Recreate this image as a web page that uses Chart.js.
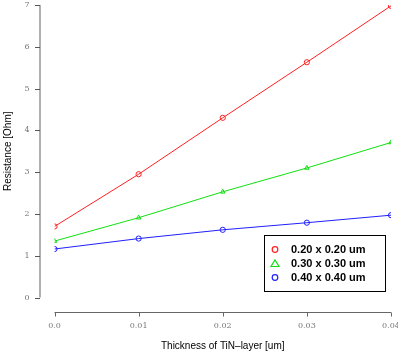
<!DOCTYPE html>
<html>
<head>
<meta charset="utf-8">
<script src="https://cdn.jsdelivr.net/npm/chart.js@4.4.1/dist/chart.umd.min.js"></script>
<style>
  body { margin: 0; background: #fff; }
  #wrap { width: 398px; height: 352px; }
</style>
</head>
<body>
<div id="wrap"><canvas id="resChart" width="398" height="352"></canvas></div>
<script>
// espesor de la capa TiN [um]
const espesor = [0.0, 0.01, 0.02, 0.03, 0.04];
const etiquetas = ['0.20 x 0.20 um', '0.30 x 0.30 um', '0.40 x 0.40 um'];
const res020 = [1.70, 2.95, 4.30, 5.63, 6.98];
const res030 = [1.35, 1.91, 2.53, 3.10, 3.71];
const res040 = [1.16, 1.41, 1.62, 1.79, 1.97];
const xTicks = ['0.0', '0.01', '0.02', '0.03', '0.04'];
const yTicks = [0, 1, 2, 3, 4, 5, 6, 7];

const serie = (vals, color, estilo, i) => ({
    label: etiquetas[i],
    data: espesor.map((x, k) => ({ x: x, y: vals[k] })),
    borderColor: color,
    backgroundColor: '#fff',
    pointBorderColor: color,
    pointBackgroundColor: 'rgba(0,0,0,0)',
    pointStyle: estilo,
    pointRadius: 2.6,
    pointBorderWidth: 1,
    borderWidth: 1,
    tension: 0,
    fill: false
});

// ejes estilo R, separados del area del grafico
const ejesR = {
    id: 'ejesR',
    afterDraw(chart) {
        const c = chart.ctx;
        const xs = chart.scales.x, ys = chart.scales.y;
        c.save();
        // eje y
        c.strokeStyle = '#b0b0b0';
        c.lineWidth = 2;
        c.beginPath();
        c.moveTo(40, ys.getPixelForValue(0));
        c.lineTo(40, ys.getPixelForValue(7));
        c.stroke();
        c.lineWidth = 1;
        c.strokeStyle = '#555';
        yTicks.forEach(v => {
            const y = Math.round(ys.getPixelForValue(v)) + 0.5;
            c.beginPath(); c.moveTo(35, y); c.lineTo(40, y); c.stroke();
        });
        // eje x
        const yx = 312.5;
        c.strokeStyle = '#666';
        c.beginPath();
        c.moveTo(xs.getPixelForValue(0), yx);
        c.lineTo(xs.getPixelForValue(0.04), yx);
        c.stroke();
        espesor.forEach(v => {
            const x = Math.round(xs.getPixelForValue(v)) + 0.5;
            c.beginPath(); c.moveTo(x, yx); c.lineTo(x, yx + 4); c.stroke();
        });
        // leyenda
        const lx = 264.5, ly = 235.5, lw = 121, lh = 56;
        c.fillStyle = '#fff';
        c.fillRect(lx, ly, lw, lh);
        c.strokeStyle = '#000';
        c.strokeRect(lx, ly, lw, lh);
        c.font = 'bold 11px "Liberation Sans", Arial, sans-serif';
        c.textBaseline = 'middle';
        chart.data.datasets.forEach((ds, i) => {
            const y = ly + 14 + i * 14;
            c.strokeStyle = ds.borderColor;
            c.lineWidth = 1.2;
            c.beginPath();
            if (ds.pointStyle === 'triangle') {
                c.moveTo(275, y - 3.5); c.lineTo(279, y + 3); c.lineTo(271, y + 3); c.closePath();
            } else {
                c.arc(275, y, 2.8, 0, Math.PI * 2);
            }
            c.stroke();
            c.fillStyle = '#000';
            c.fillText(ds.label, 291, y);
        });
        c.restore();
    }
};

const sinPadding = s => {
    s.paddingLeft = 0; s.paddingRight = 0;
    s.paddingTop = 0; s.paddingBottom = 0;
};

new Chart(document.getElementById('resChart').getContext('2d'), {
    type: 'line',
    data: {
        datasets: [
            serie(res020, '#ff2020', 'circle', 0),
            serie(res030, '#10e010', 'triangle', 1),
            serie(res040, '#2020ff', 'circle', 2)
        ]
    },
    options: {
        responsive: false,
        animation: false,
        layout: { padding: { top: 2, right: 7, left: 0, bottom: 0 } },
        plugins: {
            legend: { display: false },
            tooltip: { enabled: false }
        },
        scales: {
            x: {
                type: 'linear',
                min: 0,
                max: 0.04,
                grid: { display: false, drawTicks: false },
                border: { display: false },
                afterBuildTicks: s => { s.ticks = espesor.map(v => ({ value: v })); },
                afterFit: s => { s.height = 54.5; sinPadding(s); },
                ticks: {
                    padding: 24,
                    color: '#777',
                    font: { family: '"DejaVu Serif", serif', size: 8 },
                    maxRotation: 0,
                    callback: (v, i) => xTicks[i]
                },
                title: {
                    display: true,
                    text: 'Thickness of TiN\u2013layer [um]',
                    color: '#000',
                    font: { family: '"Liberation Sans", Arial, sans-serif', size: 10 },
                    padding: { top: 0, bottom: 0 }
                }
            },
            y: {
                min: 0,
                max: 7,
                grid: { display: false, drawTicks: false },
                border: { display: false },
                afterBuildTicks: s => { s.ticks = yTicks.map(v => ({ value: v })); },
                afterFit: s => { s.width = 54.5; sinPadding(s); },
                ticks: {
                    padding: 25,
                    color: '#777',
                    font: { family: '"DejaVu Serif", serif', size: 8 }
                },
                title: {
                    display: true,
                    text: 'Resistance [Ohm]',
                    color: '#000',
                    font: { family: '"Liberation Sans", Arial, sans-serif', size: 10 },
                    padding: { top: 2, bottom: 0 }
                }
            }
        }
    },
    plugins: [ejesR]
});
</script>
</body>
</html>
